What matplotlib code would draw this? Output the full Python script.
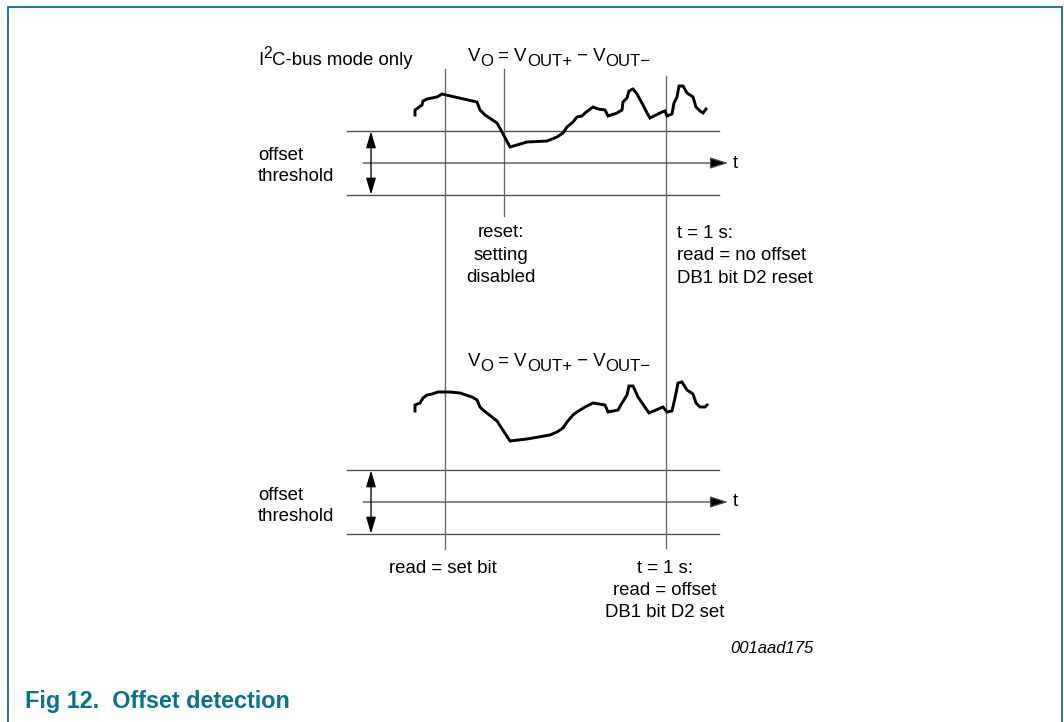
import matplotlib
matplotlib.use('Agg')
import matplotlib.pyplot as plt

# ---------------- data ----------------
curve_top_x = [415, 415, 422, 423, 427, 432, 437, 442, 446, 477, 480, 485, 497, 502, 510,
               527, 547, 557, 563, 567, 573, 577, 582, 585, 593, 598, 605, 608, 617, 622,
               623, 627, 629, 633, 637, 643, 647, 650, 662, 665, 667, 672, 674, 677, 679,
               683, 687, 693, 696, 700, 703, 706]
curve_top_y = [115, 110, 105, 101, 99, 98, 97, 94, 95, 102, 110, 115, 123, 132, 147,
               142, 141, 137, 133, 127, 122, 117, 116, 113, 107, 109, 110, 116, 113, 110,
               102, 98, 91, 89, 94, 105, 113, 118, 112, 111, 116, 114, 103, 97, 86,
               86, 93, 97, 107, 111, 113, 109]

curve_bot_x = [415, 415, 420, 423, 427, 432, 438, 450, 460, 472, 477, 480, 483, 497, 510,
               527, 550, 557, 563, 567, 573, 577, 585, 593, 605, 608, 618, 622, 627, 629,
               633, 638, 649, 663, 667, 672, 675, 678, 682, 687, 693, 696, 700, 705, 707]
curve_bot_y = [411, 405, 403, 398, 395, 394, 392, 392, 393, 397, 400, 407, 410, 421, 441,
               439, 435, 432, 428, 422, 415, 412, 407, 403, 405, 412, 410, 403, 395, 386,
               386, 397, 413, 407, 412, 411, 398, 383, 382, 390, 394, 403, 407, 407, 405]

# threshold levels (upper, zero axis, lower) for each panel
levels_top = [131, 163, 195]
levels_bot = [470, 502, 534]

threshold_label = ["offset", "threshold"]
reset_label = ["reset:", "setting", "disabled"]
t1_top_label = ["t = 1 s:", "read = no offset", "DB1 bit D2 reset"]
read_set_label = "read = set bit"
t1_bot_label = ["t = 1 s:", "read = offset", "DB1 bit D2 set"]
code_label = "001aad175"
title_label = "Fig 12.  Offset detection"

# ---------------- figure ----------------
W, H = 1064, 722
fig = plt.figure(figsize=(W / 100, H / 100), dpi=100)
ax = fig.add_axes([0, 0, 1, 1])
ax.set_xlim(0, W)
ax.set_ylim(H, 0)
ax.axis('off')

FONT = 'Liberation Sans'
FS = 13.4
TEAL = '#0b7185'
LC = '#4a4a4a'
LW = 0.95

# border
ax.plot([8, 8, 1062, 1062], [H + 5, 7, 7, H + 5], color=TEAL, lw=1.3,
        solid_joinstyle='miter', clip_on=False)

# panels
for lev in (levels_top, levels_bot):
    up, mid, lo = lev
    ax.plot([347, 719], [up, up], color=LC, lw=LW)
    ax.plot([347, 719], [lo, lo], color=LC, lw=LW)
    ax.annotate('', xy=(728, mid), xytext=(363, mid),
                arrowprops=dict(arrowstyle='-|>,head_length=1.1,head_width=0.35',
                                lw=LW, color=LC, fc='black', ec=LC, shrinkA=0, shrinkB=0,
                                mutation_scale=10))
    ax.annotate('', xy=(371, up + 0.5), xytext=(371, lo - 0.5),
                arrowprops=dict(arrowstyle='<|-|>,head_length=1.0,head_width=0.3',
                                lw=LW, color='black', fc='black', shrinkA=0, shrinkB=0,
                                mutation_scale=10))
    ax.text(733, mid + 4.5, 't', fontsize=FS, family=FONT, ha='left', va='baseline')

# vertical lines
ax.plot([445, 445], [69, 549], color='#666666', lw=LW)
ax.plot([504, 504], [69, 216], color='#666666', lw=LW)
ax.plot([666, 666], [76, 548], color='#666666', lw=LW)

# curves
ax.plot(curve_top_x, curve_top_y, color='black', lw=2.1, solid_joinstyle='miter')
ax.plot(curve_bot_x, curve_bot_y, color='black', lw=2.1, solid_joinstyle='miter')

# texts
fig.canvas.draw()
renderer = fig.canvas.get_renderer()


def formula(x0, base):
    pieces = [("V", 0, 1.0), ("O", 5, 0.9), (" = V", 0, 1.0), ("OUT+", 5, 0.9),
              (" \u2212 V", 0, 1.0), ("OUT\u2212", 5, 0.9)]
    x = x0
    for s, dy, sc in pieces:
        t = ax.text(x, base + dy, s, fontsize=FS * sc, family=FONT,
                    ha='left', va='baseline')
        bb = t.get_window_extent(renderer)
        x += bb.width


ax.text(258, 65, "I", fontsize=FS, family=FONT, ha='left', va='baseline')
ax.text(263.5, 58, "2", fontsize=FS * 0.85, family=FONT, ha='left', va='baseline')
ax.text(272, 65, "C-bus mode only", fontsize=FS, family=FONT, ha='left', va='baseline')

formula(468, 61)
formula(468, 366)

for base in (160, 500):
    ax.text(258, base, threshold_label[0], fontsize=FS, family=FONT, va='baseline')
    ax.text(258, base + 21, threshold_label[1], fontsize=FS, family=FONT, va='baseline')

for i, s in enumerate(reset_label):
    ax.text(501, 237 + 22.5 * i, s, fontsize=FS, family=FONT, ha='center', va='baseline')
for i, s in enumerate(t1_top_label):
    ax.text(677, 238 + 22.5 * i, s, fontsize=FS, family=FONT, ha='left', va='baseline')

ax.text(443, 573, read_set_label, fontsize=FS, family=FONT, ha='center', va='baseline')
for i, s in enumerate(t1_bot_label):
    ax.text(665, 573 + 22 * i, s, fontsize=FS, family=FONT, ha='center', va='baseline')

ax.text(814, 653, code_label, fontsize=12, family=FONT, style='italic',
        ha='right', va='baseline')
ax.text(25, 708, title_label, fontsize=16.8, family=FONT, weight='bold',
        color=TEAL, ha='left', va='baseline')

fig.savefig('out.png', dpi=100)
